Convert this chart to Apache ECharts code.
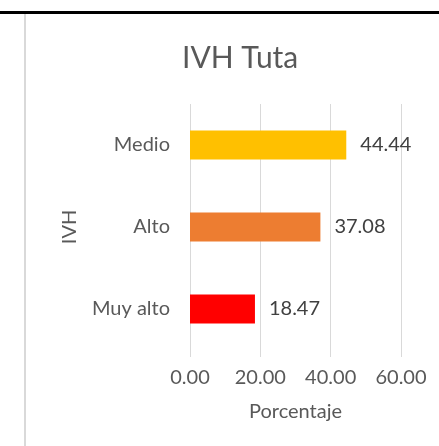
<!DOCTYPE html>
<html>
<head>
<meta charset="utf-8">
<script src="https://cdn.jsdelivr.net/npm/echarts@6/dist/echarts.min.js"></script>
<style>
  html, body { margin: 0; padding: 0; background: #fff; }
  #chart { width: 439px; height: 446px; }
</style>
</head>
<body>
<div id="chart"></div>
<script>
// datos
const categorias = ['Medio', 'Alto', 'Muy alto'];
const porcentajes = [44.44, 37.08, 18.47];
const colores = ['#FFC000', '#ED7D31', '#FF0000'];
const ticksX = [0, 20, 40, 60];

const font = 'Lato';
const gris = '#595959';

const chart = echarts.init(document.getElementById('chart'));
chart.setOption({
  backgroundColor: '#fff',
  textStyle: { fontFamily: font },
  title: {
    text: 'IVH Tuta',
    left: 177,
    top: 38,
    textStyle: { fontFamily: font, fontSize: 30, fontWeight: 'normal', color: gris }
  },
  grid: { left: 190, right: 38, top: 104, bottom: 96 },
  xAxis: {
    type: 'value',
    min: ticksX[0],
    max: ticksX[ticksX.length - 1],
    interval: 20,
    name: 'Porcentaje',
    nameLocation: 'middle',
    nameGap: 52,
    nameTextStyle: { fontFamily: font, fontSize: 20, color: gris },
    axisLine: { show: false },
    axisTick: { show: true, length: 7, lineStyle: { color: '#d9d9d9' } },
    axisLabel: { fontFamily: font, fontSize: 20, color: gris, margin: 18, formatter: v => v.toFixed(2) },
    splitLine: { show: true, lineStyle: { color: '#d9d9d9', width: 1 } }
  },
  yAxis: {
    type: 'category',
    inverse: true,
    data: categorias,
    name: 'IVH',
    nameLocation: 'middle',
    nameGap: 110,
    nameRotate: 90,
    nameTextStyle: { fontFamily: font, fontSize: 20, color: gris },
    axisLine: { show: false },
    axisTick: { show: false },
    axisLabel: { fontFamily: font, fontSize: 20, color: gris, margin: 20 }
  },
  series: [{
    type: 'bar',
    barWidth: 29,
    data: porcentajes.map((v, i) => ({ value: v, itemStyle: { color: colores[i], borderWidth: 0 } })),
    label: {
      show: true,
      position: 'right',
      distance: 14,
      fontFamily: font,
      fontSize: 20,
      color: '#404040',
      formatter: p => p.value.toFixed(2)
    }
  }],
  graphic: [
    { type: 'rect', shape: { x: 0, y: 11, width: 439, height: 3 }, style: { fill: '#000' } },
    { type: 'rect', shape: { x: 24, y: 14, width: 2, height: 432 }, style: { fill: '#d9d9d9' } }
  ]
});
</script>
</body>
</html>
